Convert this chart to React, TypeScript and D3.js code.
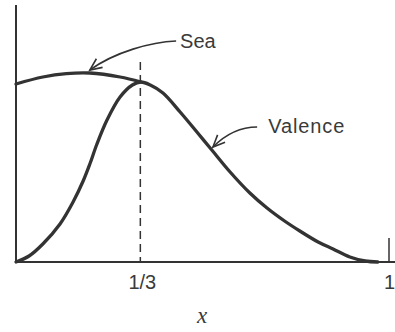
import React from "react";
import * as d3 from "d3";

// Valence band distribution along x
const valenceX = [0, 0.035, 0.072, 0.118, 0.153, 0.18, 0.198, 0.217, 0.244, 0.279, 0.312, 0.335, 0.36, 0.394, 0.44, 0.485, 0.525, 0.574, 0.627, 0.673, 0.72, 0.761, 0.81, 0.85, 0.895, 0.936, 0.97];
const valenceY = [0, 0.03, 0.09, 0.19, 0.3, 0.405, 0.49, 0.59, 0.71, 0.825, 0.885, 0.9, 0.885, 0.845, 0.75, 0.65, 0.56, 0.45, 0.345, 0.27, 0.205, 0.155, 0.1, 0.065, 0.025, 0.005, 0];

// Sea curve (joins the valence curve at x = 1/3)
const seaX = [0, 0.072, 0.135, 0.198, 0.279, 0.335];
const seaY = [0.89, 0.925, 0.942, 0.945, 0.925, 0.9];

const tickValues = [1 / 3, 1];
const tickLabels = ["1/3", "1"];
const dividerX = 1 / 3;

// Annotation anchors in data units: label baseline start and arrow tip
const seaNote = { label: "Sea", lx: 0.44, ly: 1.07, tx: 0.198, ty: 0.96 };
const valenceNote = { label: "Valence", lx: 0.676, ly: 0.645, tx: 0.528, ty: 0.575 };

const W = 395;
const H = 332;

export default function App() {
  const x = d3.scaleLinear().domain([0, 1]).range([16, 389]);
  const y = d3.scaleLinear().domain([0, 1.285]).range([262, 5]);

  const line = d3
    .line<[number, number]>()
    .x((d) => x(d[0]))
    .y((d) => y(d[1]))
    .curve(d3.curveCatmullRom.alpha(0.5));

  const valencePath = line(valenceX.map((v, i) => [v, valenceY[i]]) as [number, number][]) || "";
  const seaPath = line(seaX.map((v, i) => [v, seaY[i]]) as [number, number][]) || "";

  const ink = "#333";
  const textInk = "#3a3a3a";

  // curved leader with an open arrowhead
  function leader(sx: number, sy: number, c1x: number, c1y: number, c2x: number, c2y: number, ex: number, ey: number) {
    const a = Math.atan2(ey - c2y, ex - c2x);
    const len = 13;
    const spread = 0.42;
    const b1 = [ex - len * Math.cos(a - spread), ey - len * Math.sin(a - spread)];
    const b2 = [ex - len * Math.cos(a + spread), ey - len * Math.sin(a + spread)];
    return {
      curve: `M${sx},${sy} C${c1x},${c1y} ${c2x},${c2y} ${ex},${ey}`,
      head: `M${b1[0]},${b1[1]} L${ex},${ey} L${b2[0]},${b2[1]}`,
    };
  }

  const seaLX = x(seaNote.lx);
  const seaLY = y(seaNote.ly);
  const seaTipX = x(seaNote.tx);
  const seaTipY = y(seaNote.ty);
  const sSX = seaLX - 4;
  const sSY = seaLY - 7;
  const seaArrow = leader(sSX, sSY, sSX - 25, sSY + 1, seaTipX + 25, seaTipY - 18, seaTipX, seaTipY);

  const vLX = x(valenceNote.lx);
  const vLY = y(valenceNote.ly);
  const vTipX = x(valenceNote.tx);
  const vTipY = y(valenceNote.ty);
  const vSX = vLX - 11;
  const vSY = vLY - 6;
  const vArrow = leader(vSX, vSY, vSX - 17, vSY, vTipX + 12, vTipY - 12, vTipX, vTipY);

  return (
    <svg
      width={W}
      height={H}
      viewBox={`0 0 ${W} ${H}`}
      style={{ position: "absolute", left: 0, top: 0, background: "#fff" }}
    >
      <rect width={W} height={H} fill="#fff" />
      {/* axes */}
      <line x1={x(0)} x2={x(0)} y1={y(1.285)} y2={y(0)} stroke={ink} strokeWidth={2} />
      <line x1={x(0) - 1} x2={W} y1={y(0)} y2={y(0)} stroke={ink} strokeWidth={2} />
      <line x1={x(1)} x2={x(1)} y1={y(0) - 24} y2={y(0)} stroke={ink} strokeWidth={1.5} />

      {/* dashed marker at x = 1/3 */}
      <line
        x1={x(dividerX)}
        x2={x(dividerX)}
        y1={y(1.0)}
        y2={y(0)}
        stroke={ink}
        strokeWidth={1.5}
        strokeDasharray="8 5"
      />

      {/* curves */}
      <path d={seaPath} fill="none" stroke={ink} strokeWidth={3.3} strokeLinecap="round" />
      <path d={valencePath} fill="none" stroke={ink} strokeWidth={3.3} strokeLinecap="round" />

      {/* tick labels */}
      {tickValues.map((v, i) => {
        const last = i === tickValues.length - 1;
        return (
          <text
            key={tickLabels[i]}
            x={last ? W : x(v) + 2}
            y={289}
            textAnchor={last ? "end" : "middle"}
            fontFamily="Liberation Sans, Arial, sans-serif"
            fontSize={20}
            fill={textInk}
          >
            {tickLabels[i]}
          </text>
        );
      })}

      {/* axis title */}
      <text
        x={202}
        y={323}
        textAnchor="middle"
        fontFamily="Liberation Serif, Times New Roman, serif"
        fontStyle="italic"
        fontSize={23}
        fill={textInk}
      >
        x
      </text>

      {/* annotations */}
      <path d={seaArrow.curve} fill="none" stroke={ink} strokeWidth={1.6} />
      <path d={seaArrow.head} fill="none" stroke={ink} strokeWidth={1.6} />
      <text
        x={seaLX}
        y={seaLY}
        fontFamily="Liberation Sans, Arial, sans-serif"
        fontSize={20}
        fill={textInk}
      >
        {seaNote.label}
      </text>

      <path d={vArrow.curve} fill="none" stroke={ink} strokeWidth={1.6} />
      <path d={vArrow.head} fill="none" stroke={ink} strokeWidth={1.6} />
      <text
        x={vLX}
        y={vLY}
        fontFamily="Liberation Sans, Arial, sans-serif"
        fontSize={20}
        letterSpacing={0.9}
        fill={textInk}
      >
        {valenceNote.label}
      </text>
    </svg>
  );
}
